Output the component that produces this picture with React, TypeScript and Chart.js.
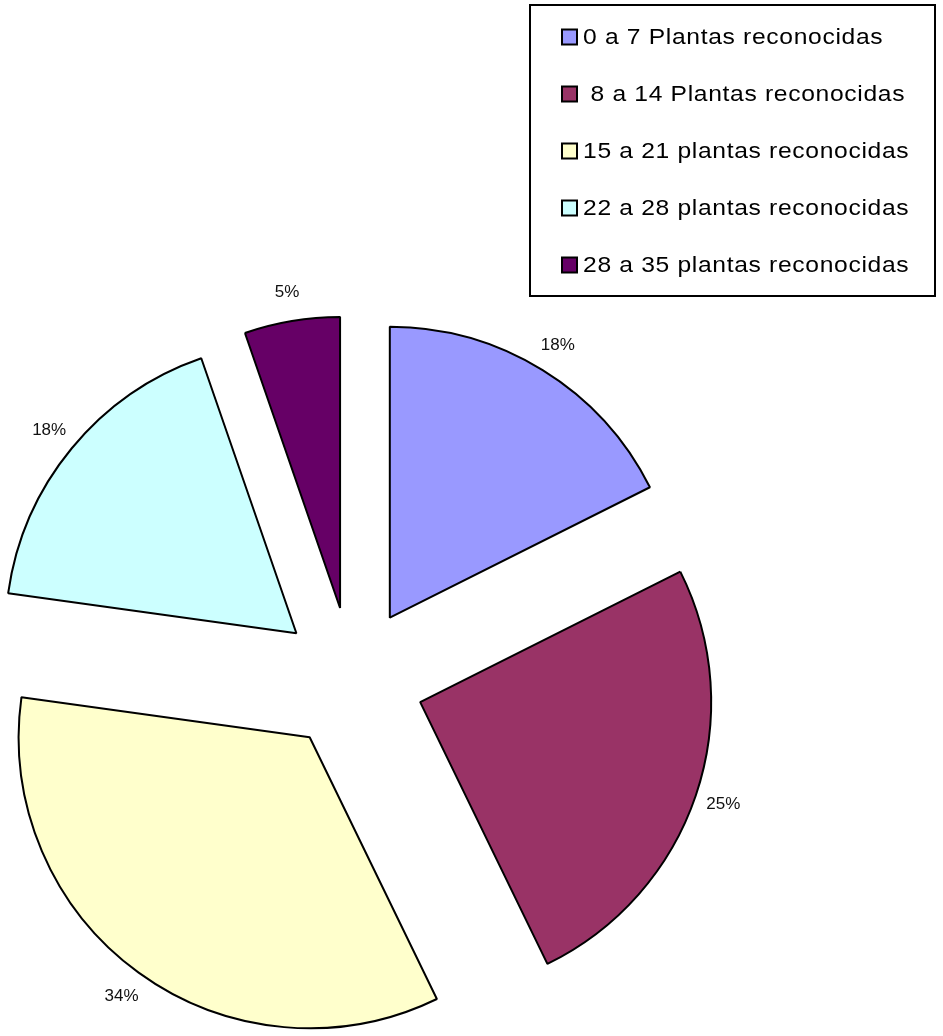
import React, { useEffect, useRef } from "react";
import { Chart, registerables } from "chart.js";

Chart.register(...registerables);

const LABELS = [
  "0 a 7 Plantas reconocidas",
  " 8 a 14 Plantas reconocidas",
  "15 a 21 plantas reconocidas",
  "22 a 28 plantas reconocidas",
  "28 a 35 plantas reconocidas",
];
const VALUES = [17.6, 25.2, 34.4, 17.5, 5.3];
const COLORS = ["#9999FF", "#993366", "#FFFFCC", "#CCFFFF", "#660066"];

const EXPLODE = 72;
const RADIUS = 291;
const LABEL_GAP = 29;

const explodePlugin = {
  id: "explodePie",
  beforeDatasetDraw(chart: any, args: any) {
    const meta = args.meta;
    const ctx = chart.ctx;
    meta.data.forEach((arc: any) => {
      const mid = (arc.startAngle + arc.endAngle) / 2;
      ctx.save();
      ctx.translate(Math.cos(mid) * EXPLODE, Math.sin(mid) * EXPLODE);
      arc.draw(ctx, chart.chartArea);
      ctx.restore();
    });
    const ds = chart.data.datasets[args.index];
    const vals = ds.data as number[];
    const total = vals.reduce((a, b) => a + b, 0);
    ctx.save();
    ctx.font = '17px "Liberation Sans", Arial, sans-serif';
    ctx.fillStyle = "#111";
    ctx.textAlign = "center";
    ctx.textBaseline = "middle";
    meta.data.forEach((arc: any, i: number) => {
      const mid = (arc.startAngle + arc.endAngle) / 2;
      const r = EXPLODE + arc.outerRadius + LABEL_GAP;
      const pct = Math.round((vals[i] / total) * 100) + "%";
      ctx.fillText(pct, arc.x + Math.cos(mid) * r, arc.y + Math.sin(mid) * r);
    });
    ctx.restore();
    return false;
  },
};

const legendPlugin = {
  id: "boxLegend",
  afterDraw(chart: any) {
    const ctx = chart.ctx;
    const ds = chart.data.datasets[0];
    const labels = chart.data.labels as string[];
    ctx.save();
    ctx.strokeStyle = "#000";
    ctx.lineWidth = 2;
    ctx.strokeRect(530, 5, 405, 291);
    labels.forEach((lab, i) => {
      const cy = 37 + i * 57;
      ctx.fillStyle = ds.backgroundColor[i];
      ctx.fillRect(562, cy - 7.5, 15, 15);
      ctx.lineWidth = 2;
      ctx.strokeStyle = "#000";
      ctx.strokeRect(562, cy - 7.5, 15, 15);
      ctx.save();
      ctx.translate(583, cy + 1);
      ctx.scale(1.12, 1);
      ctx.font = '22px "Liberation Sans", Arial, sans-serif';
      ctx.textAlign = "left";
      ctx.textBaseline = "middle";
      ctx.fillStyle = "#000";
      (ctx as any).letterSpacing = "0.6px";
      ctx.fillText(lab, 0, 0);
      ctx.restore();
    });
    ctx.restore();
  },
};

export default function App() {
  const canvasRef = useRef<HTMLCanvasElement | null>(null);

  useEffect(() => {
    if (!canvasRef.current) return;
    const chart = new Chart(canvasRef.current, {
      type: "pie",
      data: {
        labels: LABELS,
        datasets: [
          {
            data: VALUES,
            backgroundColor: COLORS,
            borderColor: "#000000",
            borderWidth: 2,
            radius: RADIUS,
          } as any,
        ],
      },
      options: {
        responsive: true,
        maintainAspectRatio: false,
        animation: false,
        events: [],
        layout: { padding: { left: 0, right: 239, top: 322, bottom: 0 } },
        plugins: {
          legend: { display: false },
          tooltip: { enabled: false },
        },
      },
      plugins: [explodePlugin, legendPlugin],
    });
    return () => chart.destroy();
  }, []);

  return (
    <div
      style={{
        position: "absolute",
        left: 0,
        top: 0,
        width: 943,
        height: 1036,
        background: "#fff",
      }}
    >
      <canvas ref={canvasRef} />
    </div>
  );
}
